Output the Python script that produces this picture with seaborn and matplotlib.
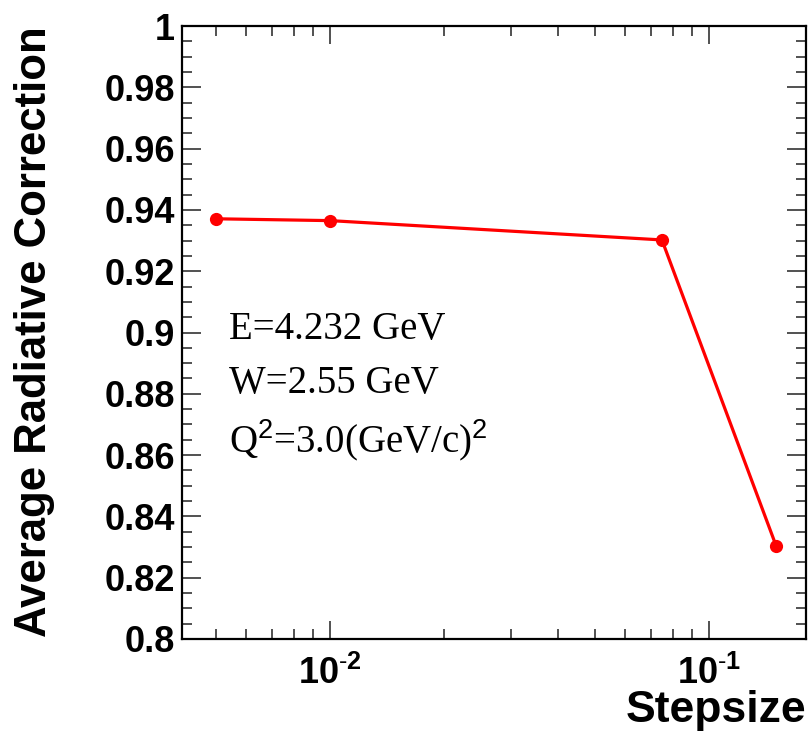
import numpy as np
import pandas as pd
import matplotlib
matplotlib.use("Agg")
import matplotlib.pyplot as plt
from matplotlib.ticker import MultipleLocator, FuncFormatter, FixedLocator, LogLocator
import seaborn as sns

# Step sizes and the resulting average radiative correction
stepsize = [0.005, 0.01, 0.075, 0.15]
avg_correction = [0.9371, 0.9365, 0.9302, 0.8305]

x_ticks = [0.01, 0.1]
x_tick_labels = [r"$\mathbf{10^{\text{-}2}}$", r"$\mathbf{10^{\text{-}1}}$"]

annotations = ["E=4.232 GeV", "W=2.55 GeV", r"Q$^{2}$=3.0(GeV/c)$^{2}$"]

df = pd.DataFrame({"stepsize": stepsize, "corr": avg_correction})

sns.set_style("ticks")
plt.rcParams["font.family"] = ["Liberation Sans", "DejaVu Sans"]
plt.rcParams["mathtext.fontset"] = "custom"
plt.rcParams["mathtext.rm"] = "Liberation Sans"
plt.rcParams["mathtext.bf"] = "Liberation Sans:bold"
plt.rcParams["text.color"] = "black"
plt.rcParams["xtick.color"] = "black"
plt.rcParams["ytick.color"] = "black"
plt.rcParams["xtick.labelcolor"] = "black"
plt.rcParams["ytick.labelcolor"] = "black"

fig = plt.figure(figsize=(8.08, 7.32), dpi=100)
ax = fig.add_axes([182 / 808, 1 - 639 / 732, (806 - 182) / 808, (639 - 26) / 732])

sns.lineplot(data=df, x="stepsize", y="corr", ax=ax, color="#ff0000",
             linewidth=2.3, marker="o", markersize=9.5, markeredgewidth=0,
             estimator=None, sort=False, legend=False)

ax.set_xscale("log")
ax.set_xlim(0.00406, 0.18)
ax.set_ylim(0.8, 1.0)

ax.xaxis.set_major_locator(FixedLocator(x_ticks))
ax.set_xticklabels(x_tick_labels)
ax.xaxis.set_minor_locator(LogLocator(base=10, subs=np.arange(2, 10)))
ax.xaxis.set_minor_formatter(FuncFormatter(lambda v, p: ""))

ax.yaxis.set_major_locator(MultipleLocator(0.02))
ax.yaxis.set_minor_locator(MultipleLocator(0.005))
ax.yaxis.set_major_formatter(FuncFormatter(lambda v, p: f"{v:.2f}".rstrip("0").rstrip(".")))

for sp in ax.spines.values():
    sp.set_linewidth(1.6)
    sp.set_color("black")

ax.tick_params(which="both", direction="in", top=True, right=True, color="#333333")
ax.tick_params(axis="y", which="major", length=14, width=1.2, labelsize=26, pad=5)
ax.tick_params(axis="y", which="minor", length=7, width=1.2)
ax.tick_params(axis="x", which="major", length=13, width=1.2, labelsize=26, pad=12)
ax.tick_params(axis="x", which="minor", length=7, width=1.2)
for lab in ax.get_yticklabels():
    lab.set_fontweight("bold")

ax.set_xlabel("")
ax.set_ylabel("")

fig.text(35 / 808, 1 - 332 / 732, "Average Radiative Correction", rotation=90,
         ha="center", va="center", fontsize=31.5, fontweight="bold")
fig.text(806 / 808, 1 - 722 / 732, "Stepsize", ha="right", va="baseline",
         fontsize=32, fontweight="bold")

serif = ["Liberation Serif", "DejaVu Serif"]
baselines = [339, 393, 452]
for txt, yb in zip(annotations, baselines):
    fig.text(229 / 808, 1 - yb / 732, txt, ha="left", va="baseline",
             fontsize=28, family=serif, math_fontfamily="custom")

fig.savefig("out.png", dpi=100)
